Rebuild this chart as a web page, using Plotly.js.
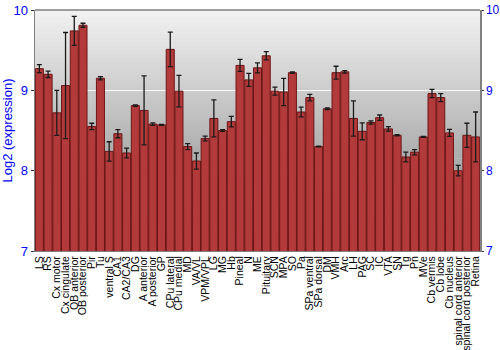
<!DOCTYPE html>
<html>
<head>
<meta charset="utf-8">
<script src="https://cdn.plot.ly/plotly-3.0.1.min.js"></script>
<style>html,body{margin:0;padding:0;background:#fff;}#chart{width:500px;height:350px;}</style>
</head>
<body>
<div id="chart"></div>
<script>
const regions = ["LS","RS","Cx motor","Cx cingulate","OB anterior","OB posterior","Pir","Tu","ventral S","CA1","CA2/CA3","DG","A anterior","A posterior","GP","CPu lateral","CPu medial","MD","VA/VL","VPM/VPL","LG","MG","Hb","Pineal","N","ME","Pituitary","SCN","MPA","SO","Pa","SPa ventral","SPa dorsal","DM","VMH","Arc","LH","PAG","SC","IC","VTA","SN","Tg","Pn","MVe","Cb vermis","Cb lobe","Cb nucleus","spinal cord anterior","spinal cord posterior","Retina"];
const expression = [9.27,9.20,8.72,9.06,9.74,9.81,8.55,9.15,8.24,8.46,8.22,8.81,8.75,8.58,8.57,9.51,8.99,8.30,8.12,8.40,8.65,8.50,8.61,9.31,9.13,9.28,9.43,8.99,8.98,9.22,8.73,8.91,8.30,8.77,9.22,9.23,8.65,8.49,8.60,8.66,8.52,8.44,8.17,8.23,8.42,8.96,8.91,8.47,8.00,8.44,8.42];
const errors = [0.05,0.04,0.28,0.66,0.18,0.025,0.04,0.02,0.12,0.05,0.06,0.01,0.43,0.015,0.005,0.215,0.195,0.037,0.10,0.03,0.23,0.012,0.065,0.075,0.08,0.062,0.052,0.05,0.17,0.01,0.06,0.04,0.005,0.01,0.08,0.015,0.22,0.105,0.02,0.033,0.027,0.008,0.06,0.033,0.005,0.052,0.05,0.043,0.066,0.15,0.31];
const yTicks = [7,8,9,10];

// background vertical gradient as stacked bands
const shapes = [];
const nBands = 60;
for (let i = 0; i < nBands; i++) {
  const t = i / nBands;
  const g = Math.round(242 - (242 - 128) * (1 - (i + 0.5) / nBands));
  shapes.push({type:'rect', xref:'x domain', yref:'y domain', x0:0, x1:1, y0:t, y1:t + 1/nBands + 0.002,
    fillcolor:`rgb(${g},${g},${g})`, line:{width:0}, layer:'below'});
}
shapes.push({type:'line', xref:'x domain', yref:'y domain', x0:0, x1:1, y0:1, y1:1, line:{color:'#808080', width:1.5}});

const trace = {
  type:'bar', x:regions, y:expression,
  marker:{color:'#b33a3a', line:{color:'#6d1515', width:1}},
  error_y:{type:'data', array:errors, visible:true, color:'#1a1a1a', thickness:1.3, width:2.5},
  hoverinfo:'x+y'
};
const axisHolder = {type:'bar', x:regions, y:expression.map(() => null), yaxis:'y2', hoverinfo:'skip', showlegend:false};

const layout = {
  width:500, height:350,
  margin:{l:35, r:20, t:10, b:99},
  paper_bgcolor:'#ffffff', plot_bgcolor:'rgba(0,0,0,0)',
  showlegend:false, bargap:0.08, barmode:'overlay',
  font:{family:'Liberation Sans, Arial, sans-serif'},
  xaxis:{type:'category', range:[-0.5, regions.length - 0.5], tickmode:'array', tickvals:regions, ticktext:regions,
    tickangle:-90, tickfont:{size:10.5, color:'#000'}, showgrid:false,
    showline:true, linecolor:'#808080', ticks:'', automargin:false},
  yaxis:{range:[7,10], tickvals:yTicks, ticktext:yTicks.map(String), tickfont:{size:13, color:'#0000ff'},
    showgrid:true, gridcolor:'rgba(255,255,255,0.85)', gridwidth:1.5, zeroline:false,
    showline:true, linecolor:'#808080', linewidth:1.5, ticks:'outside', ticklen:3, tickcolor:'#333',
    title:{text:'Log2 (expression)', font:{size:13, color:'#0000ff'}, standoff:6}, automargin:false},
  yaxis2:{range:[7,10], overlaying:'y', side:'right', tickvals:yTicks, tickfont:{size:12, color:'#0000ff'},
    showgrid:false, zeroline:false, showline:true, linecolor:'#808080', linewidth:1.5,
    ticks:'outside', ticklen:2, tickcolor:'#333', automargin:false},
  shapes:shapes
};
Plotly.newPlot('chart', [trace, axisHolder], layout, {displayModeBar:false, staticPlot:true});
</script>
</body>
</html>
